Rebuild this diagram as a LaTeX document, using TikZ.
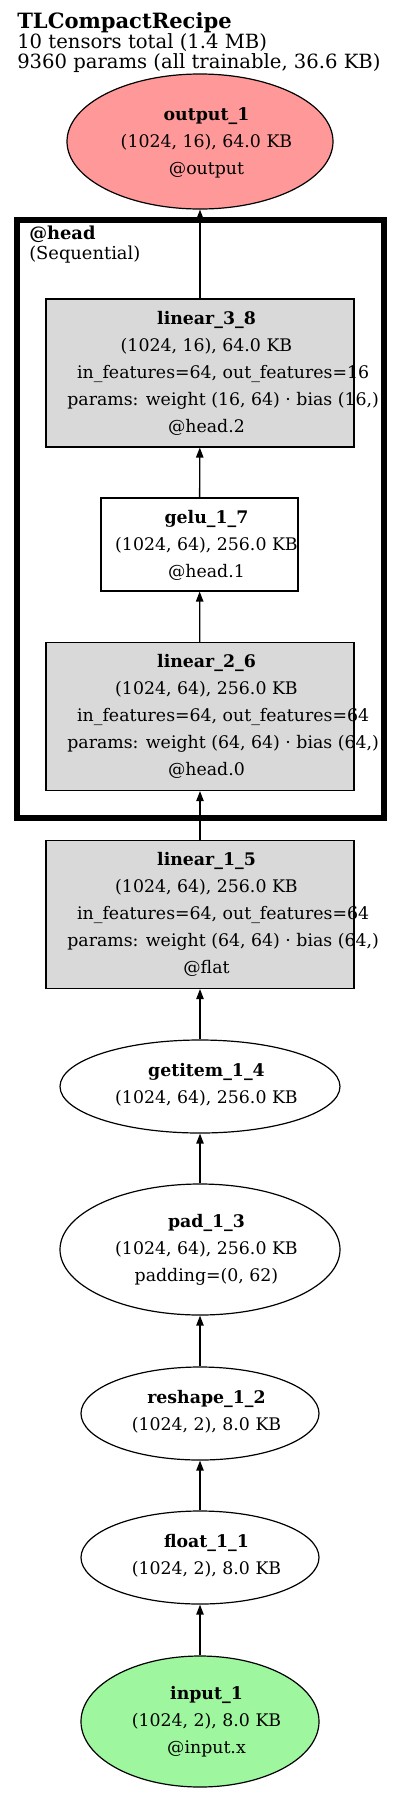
\documentclass[tikz,border=0pt]{standalone}
\usepackage{fontspec}
\setmainfont{DejaVu Serif}
\usetikzlibrary{arrows.meta, shapes.geometric}

\definecolor{outred}{HTML}{FF9999}
\definecolor{ingreen}{HTML}{9EF79E}
\definecolor{layergray}{HTML}{D9D9D9}

% wide lines sit further right in their box
\newcommand{\wideline}[1]{\hspace*{25pt}#1}

\begin{document}
\begin{tikzpicture}[
        x=0.75pt, y=-0.75pt,
        >={Triangle[length=7.5pt, width=5.5pt]},
        font=\fontsize{13}{20.25}\selectfont,
        tensor/.style={ellipse, draw, line width=0.9pt, inner sep=0pt,
            minimum width=178.5pt, minimum height=69.75pt},
        layer/.style={rectangle, draw, line width=0.8pt, fill=layergray, inner sep=0pt,
            minimum width=231pt, minimum height=111pt},
        info/.style={align=center, inner sep=0pt},
        flow/.style={->, line width=1pt}
    ]

        \useasboundingbox (0,0) rectangle (400,1793);

        % === DEFINITIONS ===
        \def\tx{206.5}  % text column, a bit right of the shapes

        % === 1. TITLE ===
        \node[anchor=north west, align=left, inner sep=0pt, font=\fontsize{14.7}{15}\selectfont]
            (title) at (17,12.5) {{\fontsize{15.8}{15}\selectfont\textbf{TLCompactRecipe}}\\10 tensors total (1.4 MB)\\9360 params (all trainable, 36.6 KB)};

        % === 2. SHAPES ===
        \node[tensor, fill=outred, minimum width=199.5pt, minimum height=101.25pt] (output) at (200,141.5) {};
        \node[layer] (lin38) at (200,373) {};
        \node[rectangle, draw, line width=0.8pt, fill=white, inner sep=0pt,
            minimum width=147.75pt, minimum height=69.75pt] (gelu) at (199.5,544.5) {};
        \node[layer] (lin26) at (200,716.5) {};
        \node[layer] (lin15) at (200,914.5) {};
        \node[tensor, minimum width=210pt] (getitem) at (200,1086.5) {};
        \node[tensor, minimum width=210pt, minimum height=98.25pt] (pad) at (200,1249.5) {};
        \node[tensor] (reshape) at (200,1413.5) {};
        \node[tensor] (float) at (200,1557.5) {};
        \node[tensor, fill=ingreen, minimum height=98.25pt] (input) at (200,1721.5) {};

        % === 3. TEXTS ===
        \node[info] (output-t) at (\tx,142.5) {\textbf{output\_1}\\(1024, 16), 64.0 KB\\@output};
        \node[info] (lin38-t) at (\tx,373) {\textbf{linear\_3\_8}\\(1024, 16), 64.0 KB\\
            \wideline{in\_features=64, out\_features=16}\\\wideline{params: weight (16, 64) · bias (16,)}\\@head.2};
        \node[info] (gelu-t) at (\tx,545) {\textbf{gelu\_1\_7}\\(1024, 64), 256.0 KB\\@head.1};
        \node[info] (lin26-t) at (\tx,716.5) {\textbf{linear\_2\_6}\\(1024, 64), 256.0 KB\\
            \wideline{in\_features=64, out\_features=64}\\\wideline{params: weight (64, 64) · bias (64,)}\\@head.0};
        \node[info] (lin15-t) at (\tx,914.5) {\textbf{linear\_1\_5}\\(1024, 64), 256.0 KB\\
            \wideline{in\_features=64, out\_features=64}\\\wideline{params: weight (64, 64) · bias (64,)}\\@flat};
        \node[info] (getitem-t) at (\tx,1085) {\textbf{getitem\_1\_4}\\(1024, 64), 256.0 KB};
        \node[info] (pad-t) at (\tx,1249.5) {\textbf{pad\_1\_3}\\(1024, 64), 256.0 KB\\padding=(0, 62)};
        \node[info] (reshape-t) at (\tx,1412) {\textbf{reshape\_1\_2}\\(1024, 2), 8.0 KB};
        \node[info] (float-t) at (\tx,1556) {\textbf{float\_1\_1}\\(1024, 2), 8.0 KB};
        \node[info] (input-t) at (\tx,1721.5) {\textbf{input\_1}\\(1024, 2), 8.0 KB\\@input.x};

        % === 4. FLOW ===
        \draw[flow] (input) -- (float);
        \draw[flow] (float) -- (reshape);
        \draw[flow] (reshape) -- (pad);
        \draw[flow] (pad) -- (getitem);
        \draw[flow] (getitem) -- (lin15);
        \draw[flow] (lin15) -- (lin26);
        \draw[flow] (lin26) -- (gelu);
        \draw[flow] (gelu) -- (lin38);
        \draw[flow] (lin38) -- (output);

        % === 5. HEAD CLUSTER ===
        \draw[line width=4.5pt] (16.5,220) rectangle (383.5,818);
        \node[anchor=north west, align=left, inner sep=0pt, font=\fontsize{13.4}{15}\selectfont]
            (head-lbl) at (29,226) {\textbf{@head}\\(Sequential)};

    \end{tikzpicture}
\end{document}
